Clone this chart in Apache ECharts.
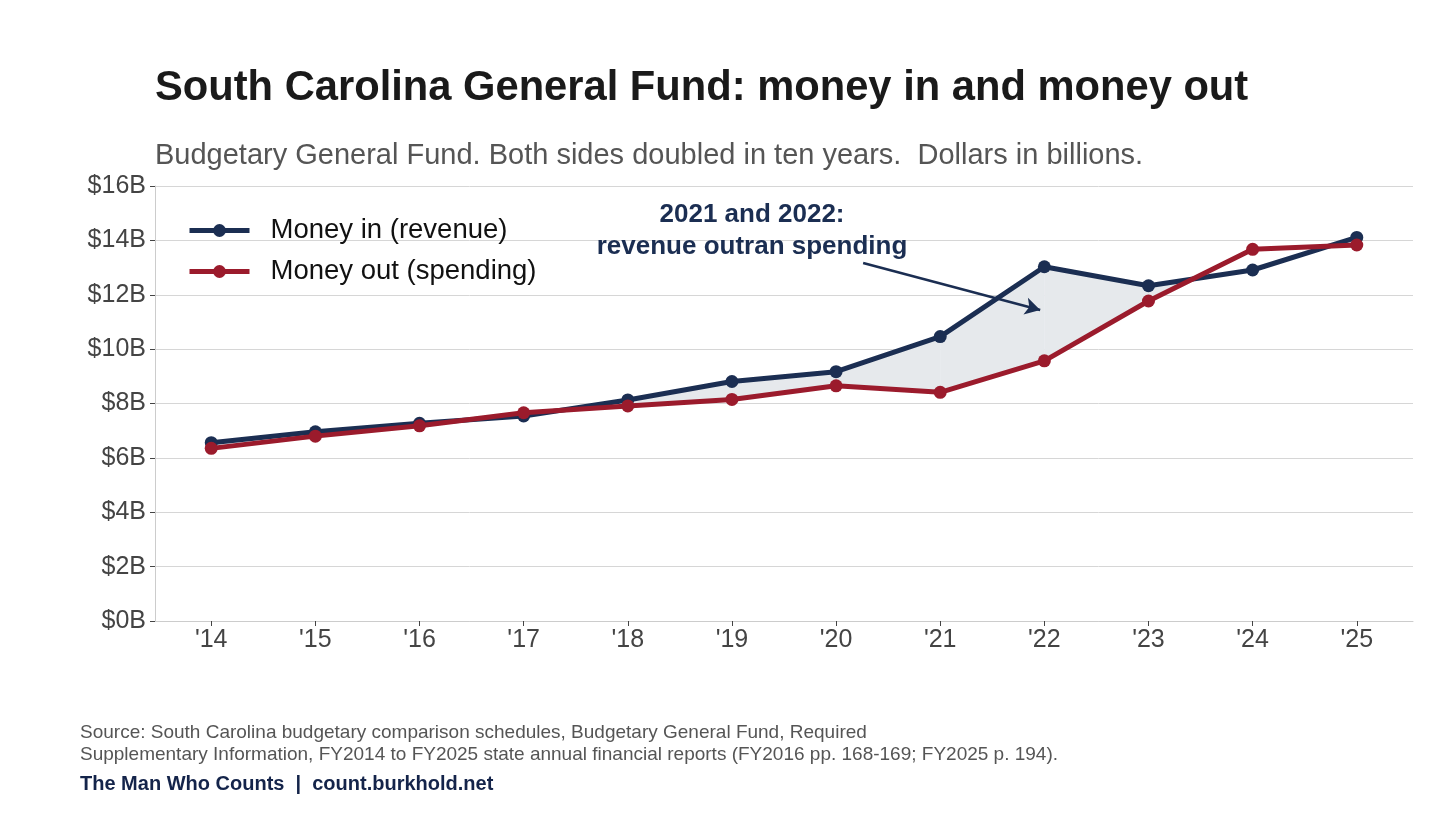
<!DOCTYPE html>
<html>
<head>
<meta charset="utf-8">
<script src="https://cdn.jsdelivr.net/npm/echarts@6/dist/echarts.min.js"></script>
<style>
  html, body { margin: 0; padding: 0; background: #fff; }
  #chart { width: 1456px; height: 819px; }
</style>
</head>
<body>
<div id="chart"></div>
<script>
// fiscal years (two digit)
var years = [14, 15, 16, 17, 18, 19, 20, 21, 22, 23, 24, 25];
// dollars in billions
var revenue = [6.56, 6.96, 7.27, 7.54, 8.13, 8.81, 9.17, 10.46, 13.03, 12.33, 12.91, 14.11];
var spending = [6.35, 6.80, 7.18, 7.66, 7.91, 8.15, 8.65, 8.41, 9.57, 11.77, 13.67, 13.83];

var NAVY = '#1b2e52';
var RED = '#9b1b2c';
var FONT = '"Liberation Sans", Arial, sans-serif';

function pairs(vals) {
	var out = [];
	for (var i = 0; i < years.length; i++) {
		out.push([years[i], vals[i]]);
	}
	return out;
}

// fill between the lines only where revenue is above spending
function renderGap(params, api) {
	var i = params.dataIndex;
	if (i >= years.length - 1) return;
	var r0 = api.coord([years[i], revenue[i]]);
	var r1 = api.coord([years[i + 1], revenue[i + 1]]);
	var s0 = api.coord([years[i], spending[i]]);
	var s1 = api.coord([years[i + 1], spending[i + 1]]);
	var d0 = revenue[i] - spending[i];
	var d1 = revenue[i + 1] - spending[i + 1];
	var pts = null;
	if (d0 > 0 && d1 > 0) {
		pts = [r0, r1, s1, s0];
	} else if (d0 > 0 || d1 > 0) {
		var t = d0 / (d0 - d1);
		var c = [r0[0] + (r1[0] - r0[0]) * t, r0[1] + (r1[1] - r0[1]) * t];
		pts = d0 > 0 ? [r0, c, s0] : [c, r1, s1];
	}
	if (!pts) return;
	return {
		type : 'polygon',
		shape : { points : pts },
		style : { fill : '#e6e9ec', stroke : '#e6e9ec', lineWidth : 0.5 }
	};
}

var chart = echarts.init(document.getElementById('chart'));

chart.setOption({
	animation : false,
	backgroundColor : '#fff',
	textStyle : { fontFamily : FONT },
	title : [ {
		text : 'South Carolina General Fund: money in and money out',
		left : 150,
		top : 63,
		textStyle : { fontSize : 41.7, fontWeight : 'bold', color : '#1a1a1a', fontFamily : FONT }
	}, {
		text : 'Budgetary General Fund. Both sides doubled in ten years.  Dollars in billions.',
		left : 150,
		top : 136,
		textStyle : { fontSize : 29, fontWeight : 'normal', color : '#555', fontFamily : FONT }
	} ],
	legend : {
		orient : 'vertical',
		left : 187,
		top : 215,
		padding : 0,
		itemWidth : 60,
		itemHeight : 16,
		itemGap : 10,
		lineStyle : { width : 5 },
		textStyle : { fontSize : 27.5, color : '#111', lineHeight : 31, padding : [0, 0, 0, 16] },
		data : [ 'Money in (revenue)', 'Money out (spending)' ]
	},
	grid : { left : 155, right : 43, top : 186, bottom : 198 },
	xAxis : {
		type : 'value',
		min : 13.46,
		max : 25.54,
		splitLine : { show : false },
		axisLine : { show : true, lineStyle : { color : '#cccccc', width : 1 } },
		axisTick : { show : true, length : 5, customValues : years, lineStyle : { color : '#444' } },
		axisLabel : {
			customValues : years,
			fontSize : 25,
			color : '#444',
			margin : 7,
			formatter : function(v) { return "'" + v; }
		}
	},
	yAxis : {
		type : 'value',
		min : 0,
		max : 16,
		interval : 2,
		axisLine : { show : true, lineStyle : { color : '#cccccc', width : 1 } },
		axisTick : { show : true, length : 5, lineStyle : { color : '#444' } },
		splitLine : { lineStyle : { color : '#d6d6d6', width : 1 } },
		axisLabel : {
			fontSize : 25,
			color : '#444',
			margin : 9,
			formatter : function(v) { return '$' + v + 'B'; }
		}
	},
	series : [ {
		type : 'custom',
		name : 'gap',
		renderItem : renderGap,
		data : pairs(revenue),
		z : 1,
		silent : true
	}, {
		name : 'Money in (revenue)',
		type : 'line',
		data : pairs(revenue),
		symbol : 'circle',
		symbolSize : 13,
		lineStyle : { color : NAVY, width : 5 },
		itemStyle : { color : NAVY },
		z : 3,
		markLine : {
			silent : true,
			symbol : [ 'none', 'arrow' ],
			symbolSize : [ 13, 15 ],
			label : { show : false },
			lineStyle : { color : NAVY, width : 2.5, type : 'solid' },
			data : [ [ { coord : [ 20.26, 13.17 ] }, { coord : [ 21.96, 11.44 ] } ] ]
		}
	}, {
		name : 'Money out (spending)',
		type : 'line',
		data : pairs(spending),
		symbol : 'circle',
		symbolSize : 13,
		lineStyle : { color : RED, width : 5 },
		itemStyle : { color : RED },
		z : 4
	} ],
	graphic : [ {
		type : 'text',
		x : 752,
		y : 199,
		z : 100,
		style : {
			text : '2021 and 2022:\nrevenue outran spending',
			align : 'center',
			verticalAlign : 'top',
			font : 'bold 26px ' + FONT,
			fill : NAVY,
			lineHeight : 32
		}
	}, {
		type : 'text',
		x : 80,
		y : 722,
		style : {
			text : 'Source: South Carolina budgetary comparison schedules, Budgetary General Fund, Required\nSupplementary Information, FY2014 to FY2025 state annual financial reports (FY2016 pp. 168-169; FY2025 p. 194).',
			font : '19px ' + FONT,
			fill : '#555',
			lineHeight : 22
		}
	}, {
		type : 'text',
		x : 80,
		y : 774,
		style : {
			text : 'The Man Who Counts  |  count.burkhold.net',
			font : 'bold 20px ' + FONT,
			fill : '#14244a'
		}
	} ]
});
</script>
</body>
</html>
